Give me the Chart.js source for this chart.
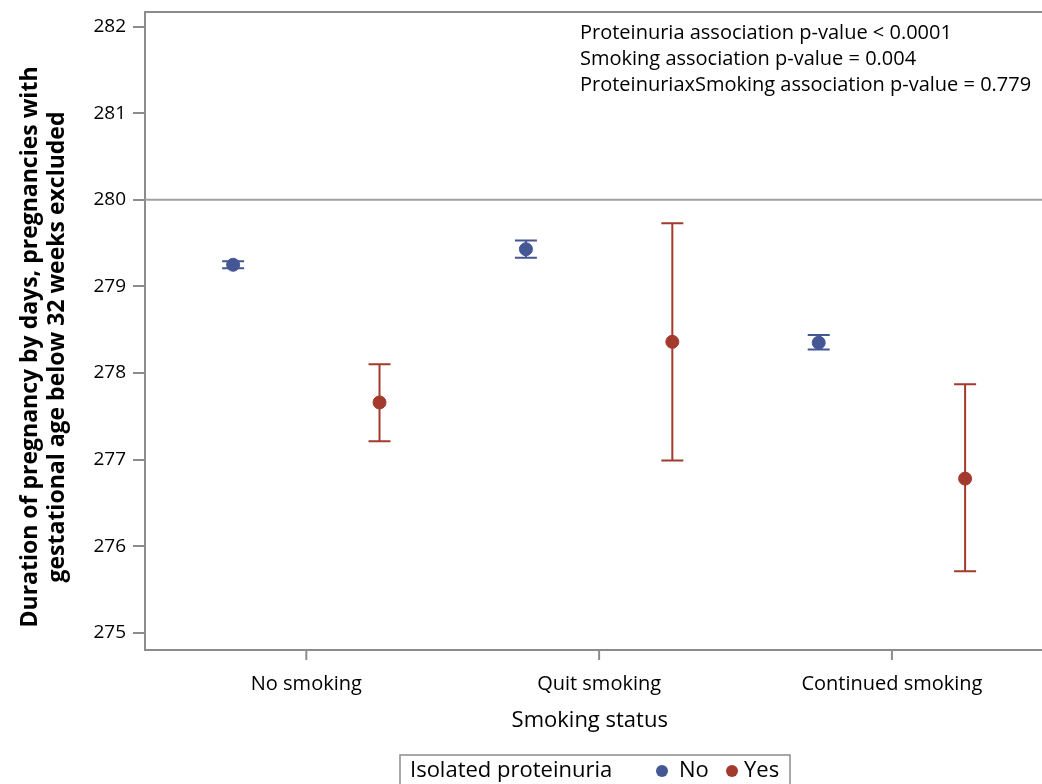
<!DOCTYPE html>
<html>
<head>
<meta charset="utf-8">
<script src="https://cdn.jsdelivr.net/npm/chart.js@4.4.1/dist/chart.umd.min.js"></script>
<style>
  html, body { margin: 0; padding: 0; background: #fff; }
  canvas { display: block; }
</style>
</head>
<body>
<canvas id="chart" width="1042" height="784"></canvas>
<script>
const categories = ["No smoking", "Quit smoking", "Continued smoking"];

// Isolated proteinuria = No
const noMean = [279.25, 279.43, 278.35];
const noLower = [279.21, 279.33, 278.27];
const noUpper = [279.29, 279.53, 278.44];

// Isolated proteinuria = Yes
const yesMean = [277.66, 278.36, 276.78];
const yesLower = [277.21, 276.99, 275.71];
const yesUpper = [278.10, 279.73, 277.87];

const yTicks = [275, 276, 277, 278, 279, 280, 281, 282];
const refValue = 280;

const yTitleLines = [
  "Duration of pregnancy by days, pregnancies with",
  "gestational age below 32 weeks excluded",
];

const pValueLines = [
  "Proteinuria association p-value < 0.0001",
  "Smoking association p-value = 0.004",
  "ProteinuriaxSmoking association p-value = 0.779",
];

const BLUE = "#445694";
const RED = "#A23A2E";
const FRAME = "#8c8c8c";
const FONT = "'Open Sans', 'Noto Sans', sans-serif";

const toPoints = (vals, shift) => vals.map((y, i) => ({ x: i + shift, y }));

const errorBars = {
  id: "errorBars",
  beforeDatasetsDraw(chart) {
    const { ctx, scales: { x, y } } = chart;
    const groups = [
      { lo: noLower, hi: noUpper, shift: -0.25, color: BLUE },
      { lo: yesLower, hi: yesUpper, shift: 0.25, color: RED },
    ];
    ctx.save();
    ctx.lineWidth = 2;
    groups.forEach(g => {
      ctx.strokeStyle = g.color;
      g.lo.forEach((lo, i) => {
        const px = x.getPixelForValue(i + g.shift);
        const yLo = y.getPixelForValue(lo);
        const yHi = y.getPixelForValue(g.hi[i]);
        ctx.beginPath();
        ctx.moveTo(px, yLo);
        ctx.lineTo(px, yHi);
        ctx.moveTo(px - 11, yLo);
        ctx.lineTo(px + 11, yLo);
        ctx.moveTo(px - 11, yHi);
        ctx.lineTo(px + 11, yHi);
        ctx.stroke();
      });
    });
    ctx.restore();
  },
};

const frameAndNotes = {
  id: "frameAndNotes",
  beforeDatasetsDraw(chart) {
    const { ctx, chartArea: a, scales: { x, y } } = chart;
    const edge = chart.width;
    ctx.save();
    ctx.strokeStyle = FRAME;
    ctx.lineWidth = 2;
    ctx.beginPath();
    ctx.moveTo(a.left - 1, a.top);
    ctx.lineTo(edge, a.top);
    ctx.moveTo(a.left - 1, a.bottom);
    ctx.lineTo(edge, a.bottom);
    // category tick marks below the axis
    categories.forEach((_, i) => {
      const px = x.getPixelForValue(i);
      ctx.moveTo(px, a.bottom);
      ctx.lineTo(px, a.bottom + 10);
    });
    ctx.stroke();
    ctx.strokeStyle = "#a0a0a0";
    const ry = y.getPixelForValue(refValue);
    ctx.beginPath();
    ctx.moveTo(a.left, ry);
    ctx.lineTo(edge, ry);
    ctx.stroke();

    ctx.fillStyle = "#000";
    ctx.font = "20px " + FONT;
    ctx.textAlign = "left";
    ctx.textBaseline = "middle";
    pValueLines.forEach((t, i) => ctx.fillText(t, 580, 33 + i * 26));

    // y axis title, two rotated lines
    ctx.save();
    ctx.translate(30, 347);
    ctx.rotate(-Math.PI / 2);
    ctx.font = "bold 23px " + FONT;
    ctx.textAlign = "center";
    yTitleLines.forEach((t, i) => ctx.fillText(t, 0, i * 27));
    ctx.restore();
    ctx.restore();
  },
  afterDraw(chart) {
    const { ctx } = chart;
    ctx.save();
    ctx.strokeStyle = FRAME;
    ctx.lineWidth = 1.5;
    ctx.strokeRect(400, 755, 390, 40);
    ctx.fillStyle = "#000";
    ctx.font = "22px " + FONT;
    ctx.textAlign = "left";
    ctx.textBaseline = "middle";
    ctx.fillText("Isolated proteinuria", 410, 771);
    ctx.fillStyle = BLUE;
    ctx.beginPath();
    ctx.arc(662, 771, 6, 0, Math.PI * 2);
    ctx.fill();
    ctx.fillStyle = RED;
    ctx.beginPath();
    ctx.arc(732, 771, 6, 0, Math.PI * 2);
    ctx.fill();
    ctx.fillStyle = "#000";
    ctx.fillText("No", 679, 771);
    ctx.fillText("Yes", 744, 771);
    ctx.restore();
  },
};

new Chart(document.getElementById("chart"), {
  type: "scatter",
  data: {
    datasets: [
      {
        label: "No",
        data: toPoints(noMean, -0.25),
        backgroundColor: BLUE,
        borderColor: BLUE,
        pointRadius: 6.5,
      },
      {
        label: "Yes",
        data: toPoints(yesMean, 0.25),
        backgroundColor: RED,
        borderColor: RED,
        pointRadius: 6.5,
      },
    ],
  },
  options: {
    responsive: false,
    animation: false,
    devicePixelRatio: 1,
    layout: { padding: { top: 12, right: 0, bottom: 49, left: 0 } },
    plugins: {
      legend: { display: false },
      tooltip: { enabled: false },
    },
    scales: {
      x: {
        type: "linear",
        min: -0.551,
        max: 2.487,
        afterBuildTicks: s => { s.ticks = categories.map((_, i) => ({ value: i })); },
        afterFit: s => {
          s.height = 85;
          s.paddingLeft = 0;
          s.paddingRight = 0;
        },
        ticks: {
          callback: v => categories[v],
          color: "#000",
          font: { family: FONT, size: 20 },
          padding: 14,
          maxRotation: 0,
        },
        grid: { display: false },
        border: { display: false },
        title: {
          display: true,
          text: "Smoking status",
          color: "#000",
          font: { family: FONT, size: 22 },
          padding: { top: 10, bottom: 1 },
        },
      },
      y: {
        min: 274.8,
        max: 282.17,
        afterBuildTicks: s => { s.ticks = yTicks.map(v => ({ value: v })); },
        afterFit: s => {
          s.width = 145;
          s.paddingTop = 0;
          s.paddingBottom = 0;
        },
        ticks: {
          color: "#000",
          font: { family: FONT, size: 19 },
          padding: 7,
        },
        grid: { drawOnChartArea: false, drawTicks: true, tickLength: 12, color: FRAME, lineWidth: 2 },
        border: { display: true, color: FRAME, width: 2 },
      },
    },
  },
  plugins: [frameAndNotes, errorBars],
});
</script>
</body>
</html>
